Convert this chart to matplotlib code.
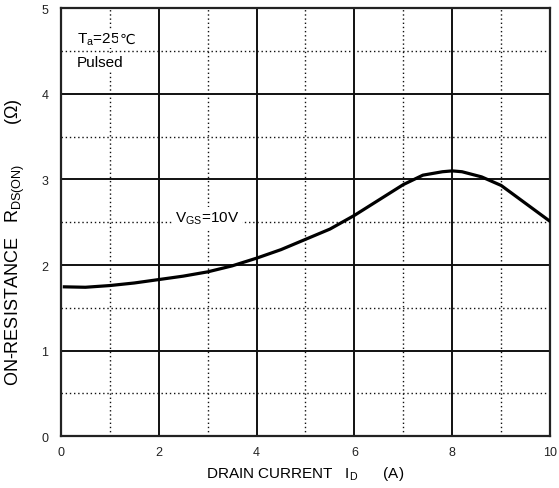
import matplotlib
matplotlib.use("Agg")
import matplotlib.pyplot as plt
import numpy as np

plt.rcParams['font.family'] = ['Liberation Sans', 'DejaVu Sans']
plt.rcParams['mathtext.fontset'] = 'custom'
plt.rcParams['mathtext.rm'] = 'Liberation Sans'
plt.rcParams['mathtext.it'] = 'Liberation Sans'

# Data
drain_current = [0.07, 0.5, 1.0, 1.5, 2.0, 2.5, 3.0, 3.5, 4.0, 4.5, 5.0, 5.5,
                 6.0, 6.5, 7.0, 7.4, 7.8, 8.0, 8.2, 8.6, 9.0, 9.5, 10.0]
on_resistance = [1.745, 1.74, 1.76, 1.79, 1.83, 1.87, 1.92, 1.99, 2.08, 2.18,
                 2.30, 2.42, 2.58, 2.76, 2.94, 3.05, 3.09, 3.10, 3.09, 3.03,
                 2.93, 2.72, 2.51]
x_ticks = [0, 2, 4, 6, 8, 10]
y_ticks = [0, 1, 2, 3, 4, 5]

W, H = 559, 489
fig = plt.figure(figsize=(W / 100, H / 100), dpi=100)
ax = fig.add_axes([0.109, 0.106, 0.875, 0.875])

ax.set_xlim(0, 10)
ax.set_ylim(0, 5)
ax.set_xticks(x_ticks)
ax.set_yticks(y_ticks)
ax.set_xticks(np.arange(1, 10, 2), minor=True)
ax.set_yticks(np.arange(0.5, 5, 1), minor=True)
ax.tick_params(which='both', length=0, labelsize=9, colors='#222222')
ax.tick_params(axis='x', pad=7)
ax.tick_params(axis='y', pad=9)

ax.grid(which='major', color='#111111', linewidth=1.4, linestyle='-')
ax.grid(which='minor', color='#111111', linewidth=1.0, linestyle=(0, (1, 2)))
for s in ax.spines.values():
    s.set_linewidth(1.6)
    s.set_color('#222222')

ax.plot(drain_current, on_resistance, color='black', linewidth=2.3, zorder=5)

box = dict(facecolor='white', edgecolor='none', pad=1)
t1 = ax.text(0.33, 4.60, r'T$_{\mathregular{a}}$=25', fontsize=11, va='baseline', ha='left', bbox=box)
ax.text(0.33, 4.33, 'Pulsed', fontsize=11, va='baseline', ha='left', bbox=box)
ax.text(2.33, 2.51, r'V$_{\mathregular{GS}}$=10V', fontsize=11, va='baseline', ha='left',
        bbox=dict(facecolor='white', edgecolor='none', pad=2))

fig.canvas.draw()
bb = t1.get_window_extent()
base_y = ax.transData.transform((0.33, 4.60))[1]
xd, yd = ax.transData.inverted().transform((bb.x1 - 1, base_y))
ax.text(xd, yd, '℃', fontsize=10, va='baseline', ha='left', family=['DejaVu Sans'],
        bbox=box)

fig.text(305 / W, 1 - 474 / H, r'DRAIN CURRENT   I$_{\mathregular{D}}$      (A)',
         fontsize=11, ha='center', va='center')
fig.text(15 / W, 1 - 242 / H, r'ON-RESISTANCE   R$_{\mathregular{DS(ON)}}$        ($\Omega$)',
         fontsize=13, ha='center', va='center', rotation=90)

fig.savefig('out.png', dpi=100)
